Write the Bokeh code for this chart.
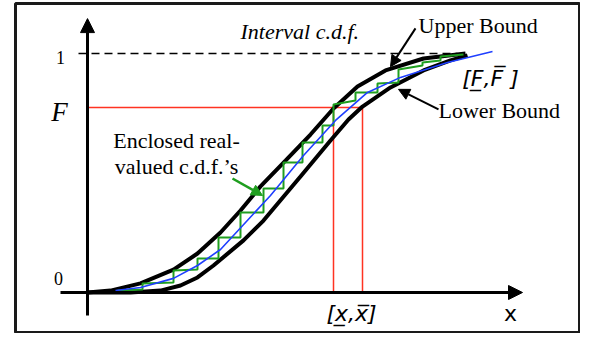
from bokeh.plotting import figure
from bokeh.models import Arrow, NormalHead, Label, Range1d
from bokeh.embed import file_html
from bokeh.resources import INLINE

# ---- data (x in arbitrary units, y = cumulative probability) ----
upper_x = [0, 23, 53, 86, 110, 133, 153, 173, 198, 223, 246, 270, 298, 336, 378]
upper_y = [0.0, 0.008, 0.038, 0.096, 0.163, 0.251, 0.343, 0.444, 0.552, 0.661, 0.770, 0.862, 0.929, 0.979, 1.0]

lower_x = [0, 43, 73, 93, 110, 126, 156, 176, 213, 243, 261, 275, 303, 336, 363, 380]
lower_y = [0.0, 0.0, 0.008, 0.029, 0.063, 0.113, 0.218, 0.301, 0.485, 0.636, 0.724, 0.778, 0.858, 0.929, 0.971, 0.992]

blue_x = [28, 53, 86, 110, 133, 158, 183, 216, 248, 280, 313, 360, 405]
blue_y = [0.008, 0.021, 0.059, 0.113, 0.180, 0.293, 0.406, 0.573, 0.720, 0.837, 0.900, 0.962, 1.008]

step_x = [30, 55, 55, 86, 86, 110, 110, 131, 131, 153, 153, 176, 176, 196, 196, 215, 215,
          235, 235, 246, 246, 268, 268, 290, 290, 311, 311, 335, 335, 353, 353, 376]
step_y = [0.008, 0.013, 0.038, 0.042, 0.092, 0.096, 0.142, 0.142, 0.230, 0.230, 0.335, 0.335,
          0.435, 0.435, 0.544, 0.544, 0.628, 0.628, 0.699, 0.699, 0.787, 0.803, 0.837, 0.837,
          0.874, 0.879, 0.933, 0.950, 0.962, 0.971, 0.987, 0.996]

F_level = 0.774
x_lo = 246
x_hi = 275
y_tick_labels = ["0", "1"]

p = figure(width=580, height=333, output_backend="svg", toolbar_location=None,
           x_range=Range1d(-72, 492), y_range=Range1d(-0.1674, 1.2092),
           x_axis_type=None, y_axis_type=None,
           min_border_left=15, min_border_right=1, min_border_top=3, min_border_bottom=1)
p.xgrid.visible = False
p.ygrid.visible = False
p.outline_line_color = "#1a1a1a"
p.outline_line_width = 3
p.background_fill_color = "white"
p.border_fill_color = "white"

# dashed line at F = 1
p.line([-9, 370], [1, 1], line_color="black", line_width=1.5, line_dash="8 5")

# red lines
red = "#ff3322"
p.line([0, x_hi], [F_level, F_level], line_color=red, line_width=1.5)
p.line([x_lo, x_lo], [0, F_level], line_color=red, line_width=1.5)
p.line([x_hi, x_hi], [0, F_level], line_color=red, line_width=1.5)

# bounds
p.line(upper_x, upper_y, line_color="black", line_width=4)
p.line(lower_x, lower_y, line_color="black", line_width=4)

# enclosed cdfs
p.line(step_x, step_y, line_color="#1f9e1f", line_width=2)
p.line(blue_x, blue_y, line_color="#1f3fff", line_width=1.6)

# axes
p.add_layout(Arrow(end=NormalHead(size=14, fill_color="black", line_color="black"),
                   x_start=0, y_start=-0.096, x_end=0, y_end=1.146,
                   line_color="black", line_width=3))
p.add_layout(Arrow(end=NormalHead(size=14, fill_color="black", line_color="black"),
                   x_start=-27, y_start=0, x_end=435, y_end=0,
                   line_color="black", line_width=3))

# annotation arrows
p.add_layout(Arrow(end=NormalHead(size=11, fill_color="black", line_color="black"),
                   x_start=328, y_start=1.105, x_end=303, y_end=0.945,
                   line_color="black", line_width=2))
p.add_layout(Arrow(end=NormalHead(size=11, fill_color="black", line_color="black"),
                   x_start=351, y_start=0.766, x_end=311, y_end=0.850,
                   line_color="black", line_width=2))
p.add_layout(Arrow(end=NormalHead(size=11, fill_color="#1f9e1f", line_color="#1f9e1f"),
                   x_start=145, y_start=0.477, x_end=175, y_end=0.406,
                   line_color="#1f9e1f", line_width=2.5))

serif = "Liberation Serif"
sans = "DejaVu Sans"

def lab(x, y, text, font=serif, size="20px", style="normal", align="left"):
    p.add_layout(Label(x=x, y=y, text=text, text_font=font, text_font_size=size,
                       text_font_style=style, text_align=align, text_baseline="middle",
                       text_color="black"))

lab(153, 1.092, "Interval c.d.f.", size="22px", style="italic")
lab(331, 1.117, "Upper Bound", size="22px")
lab(351, 0.762, "Lower Bound", size="22px")
lab(89, 0.636, "Enclosed real-", size="22px", align="center")
lab(89, 0.527, "valued c.d.f.\u2019s", size="22px", align="center")
lab(-27, 0.985, y_tick_labels[1], size="18px", align="center")
lab(-29, 0.059, y_tick_labels[0], size="18px", align="center")
lab(-28, 0.757, "F", size="27px", style="italic", align="center")
lab(403, 0.895, "[F\u0332,F\u0305 ]", font=sans, size="22px", style="italic", align="center")
lab(264, -0.088, "[x\u0332,x\u0305]", font=sans, size="22px", style="italic", align="center")
lab(423, -0.088, "x", font=sans, size="22px", align="center")

open("out.html", "w").write(file_html(p, INLINE))
